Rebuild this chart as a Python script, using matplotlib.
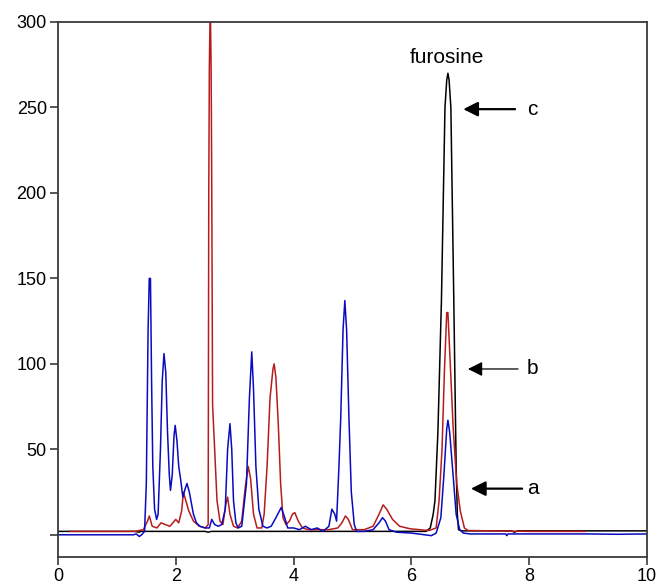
import matplotlib
matplotlib.use("Agg")
import matplotlib.pyplot as plt

plt.rcParams['font.family'] = ['Liberation Sans', 'DejaVu Sans']

# chromatogram traces (time in min, signal)
black_t = [0, 1.3, 1.38, 1.4, 2.5, 2.55, 2.6, 6.25, 6.32, 6.37, 6.40, 6.45, 6.51, 6.57,
           6.60, 6.62, 6.64, 6.67, 6.72, 6.76, 6.78, 6.8, 6.85, 7.7, 7.75, 7.8, 10]
black_y = [2, 2, 1.5, 2, 2, 1.5, 2, 2, 4, 12, 20, 60, 137, 250,
           266, 270, 266, 250, 137, 40, 12, 3, 2.3, 2.3, 1.5, 2.3, 2.3]

red_t = [0.2, 1.3, 1.45, 1.52, 1.55, 1.6, 1.68, 1.75, 1.82, 1.9, 2.0, 2.05, 2.1, 2.13,
         2.17, 2.22, 2.3, 2.4, 2.5, 2.55, 2.56, 2.57, 2.585, 2.6, 2.61, 2.625, 2.66,
         2.7, 2.75, 2.8, 2.85, 2.88, 2.92, 2.98, 3.05, 3.12, 3.18, 3.23, 3.27, 3.32,
         3.38, 3.46, 3.5, 3.55, 3.6, 3.65, 3.67, 3.7, 3.74, 3.78, 3.82, 3.87, 3.93,
         3.98, 4.02, 4.08, 4.15, 4.25, 4.4, 4.6, 4.75, 4.82, 4.88, 4.93, 5.0, 5.2,
         5.35, 5.45, 5.52, 5.58, 5.68, 5.8, 5.98, 6.3, 6.42, 6.47, 6.52, 6.56, 6.6,
         6.62, 6.66, 6.71, 6.77, 6.83, 6.9, 6.96, 8.0, 8.95]
red_y = [2, 2, 3, 8, 11, 5, 4, 7, 6, 5, 9, 7, 14, 25,
         20, 14, 8, 5, 4, 6, 200, 274, 312, 274, 209, 76, 50,
         20, 8, 6, 18, 22, 12, 5, 4, 8, 28, 40, 33, 12,
         4, 4, 12, 40, 80, 97, 100, 92, 65, 30, 10, 6, 8,
         12, 13, 8, 4, 3, 3, 3, 4, 7, 11, 9, 3, 3,
         5, 12, 17.5, 15, 9, 5, 3.5, 2.5, 4, 20, 50, 95, 130,
         130, 100, 62, 30, 14, 4, 2.5, 2, 2]

blue_t = [0, 1.28, 1.33, 1.38, 1.42, 1.47, 1.5, 1.53, 1.55, 1.57, 1.59, 1.61, 1.64,
          1.675, 1.7, 1.74, 1.77, 1.8, 1.83, 1.86, 1.89, 1.91, 1.94, 1.97, 1.99, 2.02,
          2.05, 2.08, 2.12, 2.16, 2.19, 2.23, 2.3, 2.35, 2.41, 2.5, 2.57, 2.61, 2.66,
          2.72, 2.78, 2.84, 2.88, 2.92, 2.95, 2.98, 3.02, 3.06, 3.12, 3.2, 3.25, 3.29,
          3.32, 3.36, 3.41, 3.48, 3.55, 3.62, 3.7, 3.79, 3.85, 3.9, 4.0, 4.1, 4.2, 4.3,
          4.4, 4.5, 4.6, 4.65, 4.7, 4.73, 4.77, 4.8, 4.84, 4.87, 4.9, 4.94, 4.98, 5.03,
          5.07, 5.2, 5.35, 5.45, 5.51, 5.56, 5.62, 5.75, 6.0, 6.34, 6.42, 6.5, 6.55,
          6.6, 6.62, 6.65, 6.71, 6.76, 6.82, 6.88, 7.0, 7.6, 7.62, 7.64, 8.2, 9.0, 9.5, 10]
blue_y = [0, 0, 0.5, -1, 0, 2, 30, 120, 150, 150, 88, 40, 15,
          9, 12, 50, 90, 106, 95, 60, 35, 26, 35, 58, 64, 55,
          40, 33, 22, 27, 30, 25, 12, 7, 5, 4, 4, 9, 6,
          5, 6, 15, 50, 65, 50, 20, 7, 4, 5, 30, 80, 107,
          85, 40, 15, 5, 4, 5, 10, 16, 10, 4, 4, 3, 5, 3,
          4, 2, 5, 15, 12, 8, 40, 68, 120, 137, 120, 68, 25, 6,
          2, 2, 3, 7, 10, 8, 3, 1.5, 1, -0.5, 1, 10, 34,
          62, 67, 60, 34, 12, 3, 1, 0.5, 0.5, -0.5, 0.5, 0.5, 0.5, 0.3, 0.5]

xticks = [0, 2, 4, 6, 8, 10]
yticks = [0, 50, 100, 150, 200, 250, 300]
ytick_labels = ['', '50', '100', '150', '200', '250', '300']

fig = plt.figure(figsize=(6.58, 5.88), dpi=100)
ax = fig.add_axes([0.0881, 0.0527, 0.8952, 0.9099])

ax.plot(black_t, black_y, color='black', lw=1.1)
ax.plot(red_t, red_y, color='#b71c1c', lw=1.1)
ax.plot(blue_t, blue_y, color='#0a0ac0', lw=1.1)

ax.set_xlim(0, 10)
ax.set_ylim(-13, 300)
ax.set_xticks(xticks)
ax.set_xticklabels([str(v) for v in xticks])
ax.set_yticks(yticks)
ax.set_yticklabels(ytick_labels)
ax.tick_params(direction='out', length=6, width=1.2, colors='#3a3a3a',
               labelsize=13, labelcolor='black', pad=2)
for s in ax.spines.values():
    s.set_color('#3a3a3a')
    s.set_linewidth(1.3)

# labels and arrows (b arrow is drawn thinner in the original)
ax.text(6.6, 279, 'furosine', ha='center', va='center', fontsize=15)
arrows = [(6.88, 7.76, 249, 'c', 1.6), (6.96, 7.81, 97, 'b', 0.9), (7.01, 7.88, 27, 'a', 1.6)]
for head, tail, yy, lab, w in arrows:
    ax.annotate('', xy=(head, yy), xytext=(tail, yy),
                arrowprops=dict(arrowstyle='-|>', color='black', lw=w,
                                mutation_scale=22, shrinkA=0, shrinkB=0))
    ax.text(8.06, yy, lab, ha='center', va='center', fontsize=15)

fig.savefig('out.png', dpi=100)
